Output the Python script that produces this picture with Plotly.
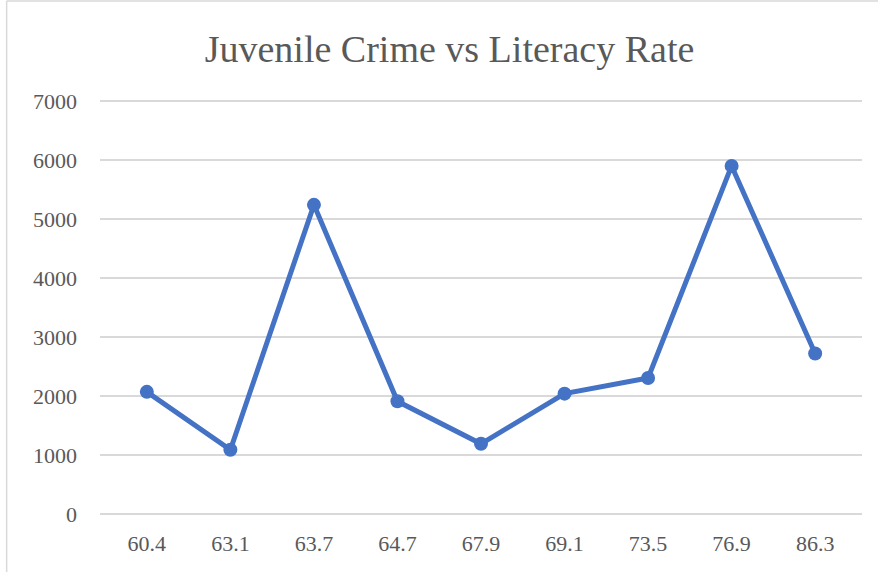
import plotly.graph_objects as go

literacy = ["60.4", "63.1", "63.7", "64.7", "67.9", "69.1", "73.5", "76.9", "86.3"]
crime = [2070, 1090, 5240, 1910, 1190, 2040, 2305, 5900, 2720]
y_ticks = [0, 1000, 2000, 3000, 4000, 5000, 6000, 7000]

FONT = "Liberation Serif"
GREY = "#595959"

fig = go.Figure()
fig.add_trace(go.Scatter(
    x=literacy, y=crime, mode="lines+markers",
    line=dict(color="#4472C4", width=5),
    marker=dict(color="#4472C4", size=14),
    showlegend=False,
))

fig.update_layout(
    width=878, height=572,
    margin=dict(l=100, r=16, t=99, b=56),
    paper_bgcolor="white", plot_bgcolor="white",
    title=dict(text="Juvenile Crime vs Literacy Rate", x=0.512, xanchor="center",
               y=0.915, yanchor="middle",
               font=dict(family=FONT, size=38, color=GREY)),
    xaxis=dict(type="category", showgrid=False, zeroline=False, showline=False,
               ticks="", ticklabelstandoff=12,
               tickfont=dict(family=FONT, size=22, color=GREY)),
    yaxis=dict(range=[-34, 7034], tickvals=y_ticks, showgrid=True, gridcolor="#D9D9D9",
               gridwidth=1.5, zeroline=False, showline=False, ticks="",
               ticklabelstandoff=22,
               tickfont=dict(family=FONT, size=22, color=GREY)),
    shapes=[
        dict(type="line", xref="paper", yref="paper", x0=-0.1225, x1=-0.1225, y0=-0.2, y1=1.235,
             line=dict(color="#D9D9D9", width=1.5)),
        dict(type="line", xref="paper", yref="paper", x0=-0.1225, x1=1.1, y0=1.235, y1=1.235,
             line=dict(color="#D9D9D9", width=1.5)),
    ],
)

fig.write_html("out.html")
